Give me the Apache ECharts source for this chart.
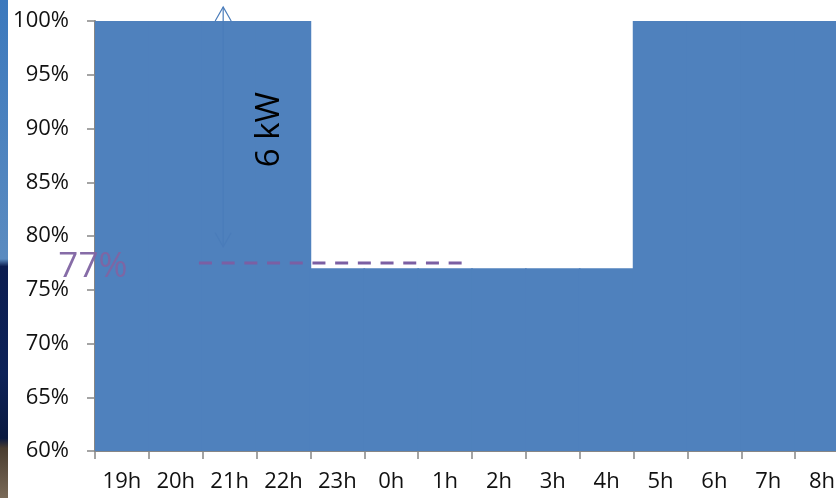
<!DOCTYPE html>
<html>
<head>
<meta charset="utf-8">
<script src="https://cdn.jsdelivr.net/npm/echarts@6/dist/echarts.min.js"></script>
<style>
  html, body { margin: 0; padding: 0; background: #fff; }
  #chart { width: 836px; height: 498px; }
</style>
</head>
<body>
<div id="chart"></div>
<script>
// Hourly charge level through the night
const hours = ['19h', '20h', '21h', '22h', '23h', '0h', '1h', '2h', '3h', '4h', '5h', '6h', '7h', '8h'];
const chargePct = [100, 100, 100, 100, 77, 77, 77, 77, 77, 77, 100, 100, 100, 100];

// Annotation geometry on a slot scale (0 = left edge of 19h, 14 = right edge of 8h)
const arrowSlot = 2.38;
const arrowRange = [79, 101.3];
const guideLevel = 77.5;
const guideSlots = [1.93, 6.93];
const powerLabel = '6 kW';
const powerLabelPos = [3.25, 89.9];
const levelLabel = '77%';
const levelLabelPos = [-0.04, 77.1];

const chart = echarts.init(document.getElementById('chart'));

function drawAnnotations(params, api) {
  const top = api.coord([arrowSlot, arrowRange[1]]);
  const bottom = api.coord([arrowSlot, arrowRange[0]]);
  const g1 = api.coord([guideSlots[0], guideLevel]);
  const g2 = api.coord([guideSlots[1], guideLevel]);
  const pl = api.coord(powerLabelPos);
  const ll = api.coord(levelLabelPos);
  const arrowStyle = { stroke: '#4a7cba', lineWidth: 1.2, fill: null };
  const hw = 8, hh = 14;
  return {
    type: 'group',
    children: [
      { type: 'line', shape: { x1: top[0], y1: top[1], x2: bottom[0], y2: bottom[1] }, style: arrowStyle },
      { type: 'polyline', shape: { points: [[top[0] - hw, top[1] + hh], [top[0], top[1]], [top[0] + hw, top[1] + hh]] }, style: arrowStyle },
      { type: 'polyline', shape: { points: [[bottom[0] - hw, bottom[1] - hh], [bottom[0], bottom[1]], [bottom[0] + hw, bottom[1] - hh]] }, style: arrowStyle },
      { type: 'line', shape: { x1: g1[0], y1: g1[1], x2: g2[0], y2: g2[1] },
        style: { stroke: '#7b5fa3', lineWidth: 3, lineDash: [13, 9.7] } },
      { type: 'text', x: pl[0], y: pl[1], rotation: Math.PI / 2,
        style: { text: powerLabel, fill: '#000', font: '33px "Open Sans"', align: 'center', verticalAlign: 'middle' } },
      { type: 'text', x: ll[0], y: ll[1],
        style: { text: levelLabel, fill: 'rgba(128,100,162,0.95)', font: '35px "Open Sans"', align: 'center', verticalAlign: 'middle' } }
    ]
  };
}

chart.setOption({
  animation: false,
  backgroundColor: '#fff',
  textStyle: { fontFamily: '"Open Sans", sans-serif' },
  graphic: [{
    type: 'rect', left: 0, top: 0, z: -10,
    shape: { width: 8, height: 498 },
    style: {
      fill: new echarts.graphic.LinearGradient(0, 0, 0, 1, [
        { offset: 0, color: '#3c79bd' },
        { offset: 0.52, color: '#5b8bc0' },
        { offset: 0.535, color: '#0c1d50' },
        { offset: 0.75, color: '#0d2258' },
        { offset: 0.88, color: '#0b1a40' },
        { offset: 0.9, color: '#4a3d30' },
        { offset: 1, color: '#7a6a58' }
      ])
    }
  }],
  grid: { left: 95, top: 21, width: 754, height: 430, containLabel: false, outerBoundsMode: 'none' },
  xAxis: [{
    type: 'category',
    data: hours,
    axisLine: { lineStyle: { color: '#868686', width: 2 } },
    axisTick: { show: true, length: 8, lineStyle: { color: '#868686', width: 1.5 } },
    axisLabel: { color: '#111', fontSize: 22, fontFamily: '"Open Sans"', margin: 20 },
    splitLine: { show: false }
  }, {
    type: 'value', min: 0, max: 14, show: false,
    splitLine: { show: false }
  }],
  yAxis: {
    type: 'value', min: 60, max: 100, interval: 5,
    axisLine: { show: true, lineStyle: { color: '#868686', width: 2 } },
    axisTick: { show: true, length: 8, lineStyle: { color: '#868686', width: 1.5 } },
    axisLabel: { color: '#111', fontSize: 22, fontFamily: '"Open Sans"', margin: 26, formatter: '{value}%' },
    splitLine: { show: false }
  },
  series: [{
    type: 'bar',
    data: chargePct,
    barWidth: '103%',
    itemStyle: { color: '#4f81bd' },
    z: 1
  }, {
    type: 'custom',
    xAxisIndex: 1,
    yAxisIndex: 0,
    clip: false,
    silent: true,
    z: 5,
    data: [[0, 0]],
    renderItem: drawAnnotations
  }]
});
</script>
</body>
</html>
